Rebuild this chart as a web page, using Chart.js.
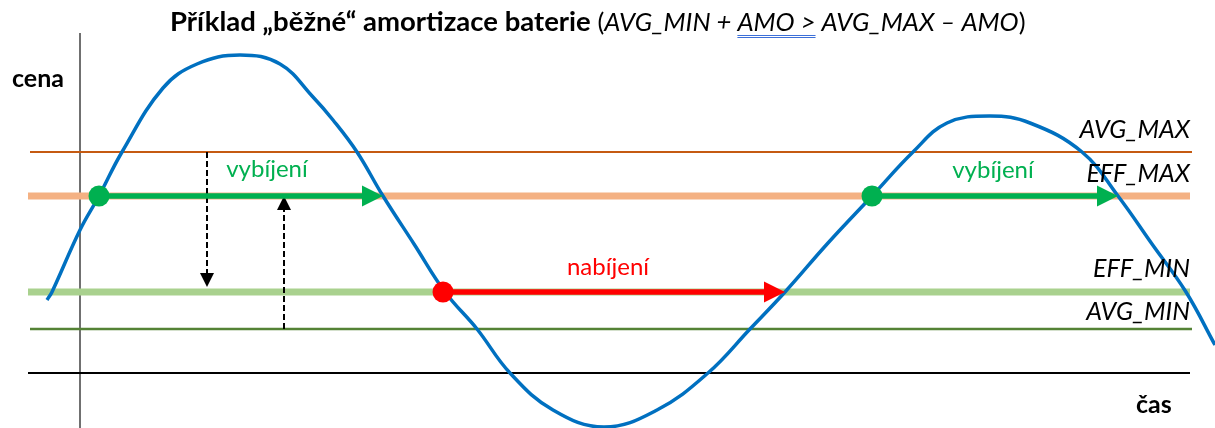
<!DOCTYPE html>
<html>
<head>
<meta charset="utf-8">
<script src="https://cdn.jsdelivr.net/npm/chart.js@4/dist/chart.umd.min.js"></script>
<style>
  body { margin: 0; background: #fff; }
  #wrap { width: 1215px; height: 428px; position: relative; }
</style>
</head>
<body>
<div id="wrap"><canvas id="chart"></canvas></div>
<script>
// time is measured from the vertical axis, price from the horizontal axis
const curveTime = [-33, -28, 0, 19, 42, 83, 117, 160, 200, 233, 253, 277, 303, 334,
  365, 397, 430, 473, 524, 577, 628, 670, 705, 748, 792, 833, 867, 910, 950, 1002, 1038, 1072, 1106, 1135];
const curvePrice = [73, 81, 143, 177, 221, 285, 309, 318, 309, 276, 253, 221, 177, 129,
  81, 44, 0, -37, -54, -37, 0, 44, 81, 130, 177, 221, 250, 257, 250, 221, 177, 129, 81, 28];

const levelNames = ["AVG_MAX", "EFF_MAX", "EFF_MIN", "AVG_MIN"];
const levelPrices = [221, 177, 81, 44];
const levelFrom = [-50, -52, -52, -50];
const levelTo = [1112, 1110, 1110, 1112];

const arrowNames = ["vybíjení", "nabíjení", "vybíjení"];
const arrowFrom = [19, 363, 792];
const arrowTo = [303, 705, 1038];
const arrowPrice = [177, 81, 177];

const shiftTime = [127, 204];
const shiftFrom = [221, 44];
const shiftTo = [86, 177];

const axisTime = [-52, 1110];
const axisPrice = [-55, 340];

const pts = (xs, ys) => xs.map((x, i) => ({ x: x, y: ys[i] }));

const levelStyles = [
  { color: "#C55A11", width: 2 },
  { color: "#F4B183", width: 7 },
  { color: "#A9D18E", width: 7 },
  { color: "#548235", width: 2.5 }
];
const arrowColors = ["#00B050", "#FF0000", "#00B050"];

const datasets = [];

arrowNames.forEach((name, i) => {
  datasets.push({
    label: name,
    data: pts([arrowFrom[i], arrowTo[i]], [arrowPrice[i], arrowPrice[i]]),
    borderColor: arrowColors[i],
    backgroundColor: arrowColors[i],
    borderWidth: 5.5,
    pointRadius: c => c.dataIndex === 0 ? 10.5 : 0,
    pointBorderWidth: 0,
    arrowHead: { len: 21, half: 10.5 },
    order: 0
  });
});

shiftTime.forEach((t, i) => {
  datasets.push({
    data: pts([t, t], [shiftFrom[i], shiftTo[i]]),
    borderColor: "#000",
    backgroundColor: "#000",
    borderWidth: 2,
    borderDash: [6, 3],
    pointRadius: 0,
    arrowHead: { len: 14, half: 7 },
    order: 1
  });
});

datasets.push({
  data: pts(curveTime, curvePrice),
  borderColor: "#0070C0",
  borderWidth: 3.5,
  pointRadius: 0,
  tension: 0.4,
  order: 2
});

levelNames.forEach((name, i) => {
  datasets.push({
    label: name,
    data: pts([levelFrom[i], levelTo[i]], [levelPrices[i], levelPrices[i]]),
    borderColor: levelStyles[i].color,
    borderWidth: levelStyles[i].width,
    pointRadius: 0,
    order: 3
  });
});

datasets.push({
  data: pts(axisTime, [0, 0]),
  borderColor: "#000",
  borderWidth: 2,
  pointRadius: 0,
  order: 4
});
datasets.push({
  data: pts([0, 0], axisPrice),
  borderColor: "#404040",
  borderWidth: 1.5,
  pointRadius: 0,
  order: 4
});

const arrowPlugin = {
  id: "arrowHeads",
  beforeDatasetDraw(chart, args) {
    const ds = chart.data.datasets[args.index];
    if (!ds.arrowHead) return;
    const ctx = chart.ctx;
    const el = args.meta.data;
    const a = el[el.length - 2], b = el[el.length - 1];
    const len = Math.hypot(b.x - a.x, b.y - a.y);
    const ux = (b.x - a.x) / len, uy = (b.y - a.y) / len;
    const bx = b.x - ux * ds.arrowHead.len, by = b.y - uy * ds.arrowHead.len;
    const F = 4000;
    ctx.save();
    ctx.beginPath();
    ctx.moveTo(bx - uy * F, by + ux * F);
    ctx.lineTo(bx + uy * F, by - ux * F);
    ctx.lineTo(bx + uy * F - ux * F, by - ux * F - uy * F);
    ctx.lineTo(bx - uy * F - ux * F, by + ux * F - uy * F);
    ctx.closePath();
    ctx.clip();
  },
  afterDatasetDraw(chart, args) {
    const ds = chart.data.datasets[args.index];
    if (!ds.arrowHead) return;
    const ctx = chart.ctx;
    ctx.restore();
    const el = args.meta.data;
    const a = el[el.length - 2], b = el[el.length - 1];
    const len = Math.hypot(b.x - a.x, b.y - a.y);
    const ux = (b.x - a.x) / len, uy = (b.y - a.y) / len;
    const h = ds.arrowHead;
    const bx = b.x - ux * h.len, by = b.y - uy * h.len;
    ctx.save();
    ctx.fillStyle = ds.borderColor;
    ctx.beginPath();
    ctx.moveTo(b.x, b.y);
    ctx.lineTo(bx - uy * h.half, by + ux * h.half);
    ctx.lineTo(bx + uy * h.half, by - ux * h.half);
    ctx.closePath();
    ctx.fill();
    ctx.restore();
  }
};

const textPlugin = {
  id: "texts",
  afterDraw(chart) {
    const ctx = chart.ctx;
    const sx = chart.scales.x, sy = chart.scales.y;
    const put = (txt, t, p, font, color, align) => {
      ctx.font = font;
      ctx.fillStyle = color;
      ctx.textAlign = align;
      ctx.textBaseline = "alphabetic";
      ctx.fillText(txt, sx.getPixelForValue(t), sy.getPixelForValue(p));
    };
    ctx.save();
    // level names, right aligned above their lines
    const levelBase = [235, 191, 96, 53];
    levelNames.forEach((n, i) => put(n, 1110, levelBase[i], "italic 25px Lato", "#000", "right"));
    // arrow names
    const arrowText = [[187, 196], [528, 98], [913, 195]];
    arrowNames.forEach((n, i) => put(n, arrowText[i][0], arrowText[i][1], "24px Lato", arrowColors[i], "center"));
    put("cena", -68, 286, "bold 25px Lato", "#000", "left");
    put("čas", 1056, -40, "bold 25px Lato", "#000", "left");

    // title with mixed styles
    const runs = [
      ["Příklad „běžné“ amortizace baterie ", "bold 27.5px Lato"],
      ["(", "25.6px Lato"],
      ["AVG_MIN + ", "italic 25.6px Lato"],
      ["AMO >", "italic 25.6px Lato", true],
      [" AVG_MAX – AMO", "italic 25.6px Lato"],
      [")", "25.6px Lato"]
    ];
    let x = 170;
    const y = 31;
    ctx.textAlign = "left";
    ctx.fillStyle = "#000";
    runs.forEach(r => {
      ctx.font = r[1];
      const w = ctx.measureText(r[0]).width;
      ctx.fillText(r[0], x, y);
      if (r[2]) {
        ctx.strokeStyle = "#3C6FD8";
        ctx.lineWidth = 1;
        ctx.beginPath();
        ctx.moveTo(x, y + 4.5); ctx.lineTo(x + w, y + 4.5);
        ctx.moveTo(x, y + 6.5); ctx.lineTo(x + w, y + 6.5);
        ctx.stroke();
      }
      x += w;
    });
    ctx.restore();
  }
};

new Chart(document.getElementById("chart"), {
  type: "line",
  data: { datasets: datasets },
  options: {
    responsive: true,
    maintainAspectRatio: false,
    animation: false,
    events: [],
    layout: { padding: 0, autoPadding: false },
    plugins: { legend: { display: false }, tooltip: { enabled: false } },
    scales: {
      x: { type: "linear", min: -80, max: 1135, display: false },
      y: { type: "linear", min: -55, max: 373, display: false }
    }
  },
  plugins: [arrowPlugin, textPlugin]
});
</script>
</body>
</html>
